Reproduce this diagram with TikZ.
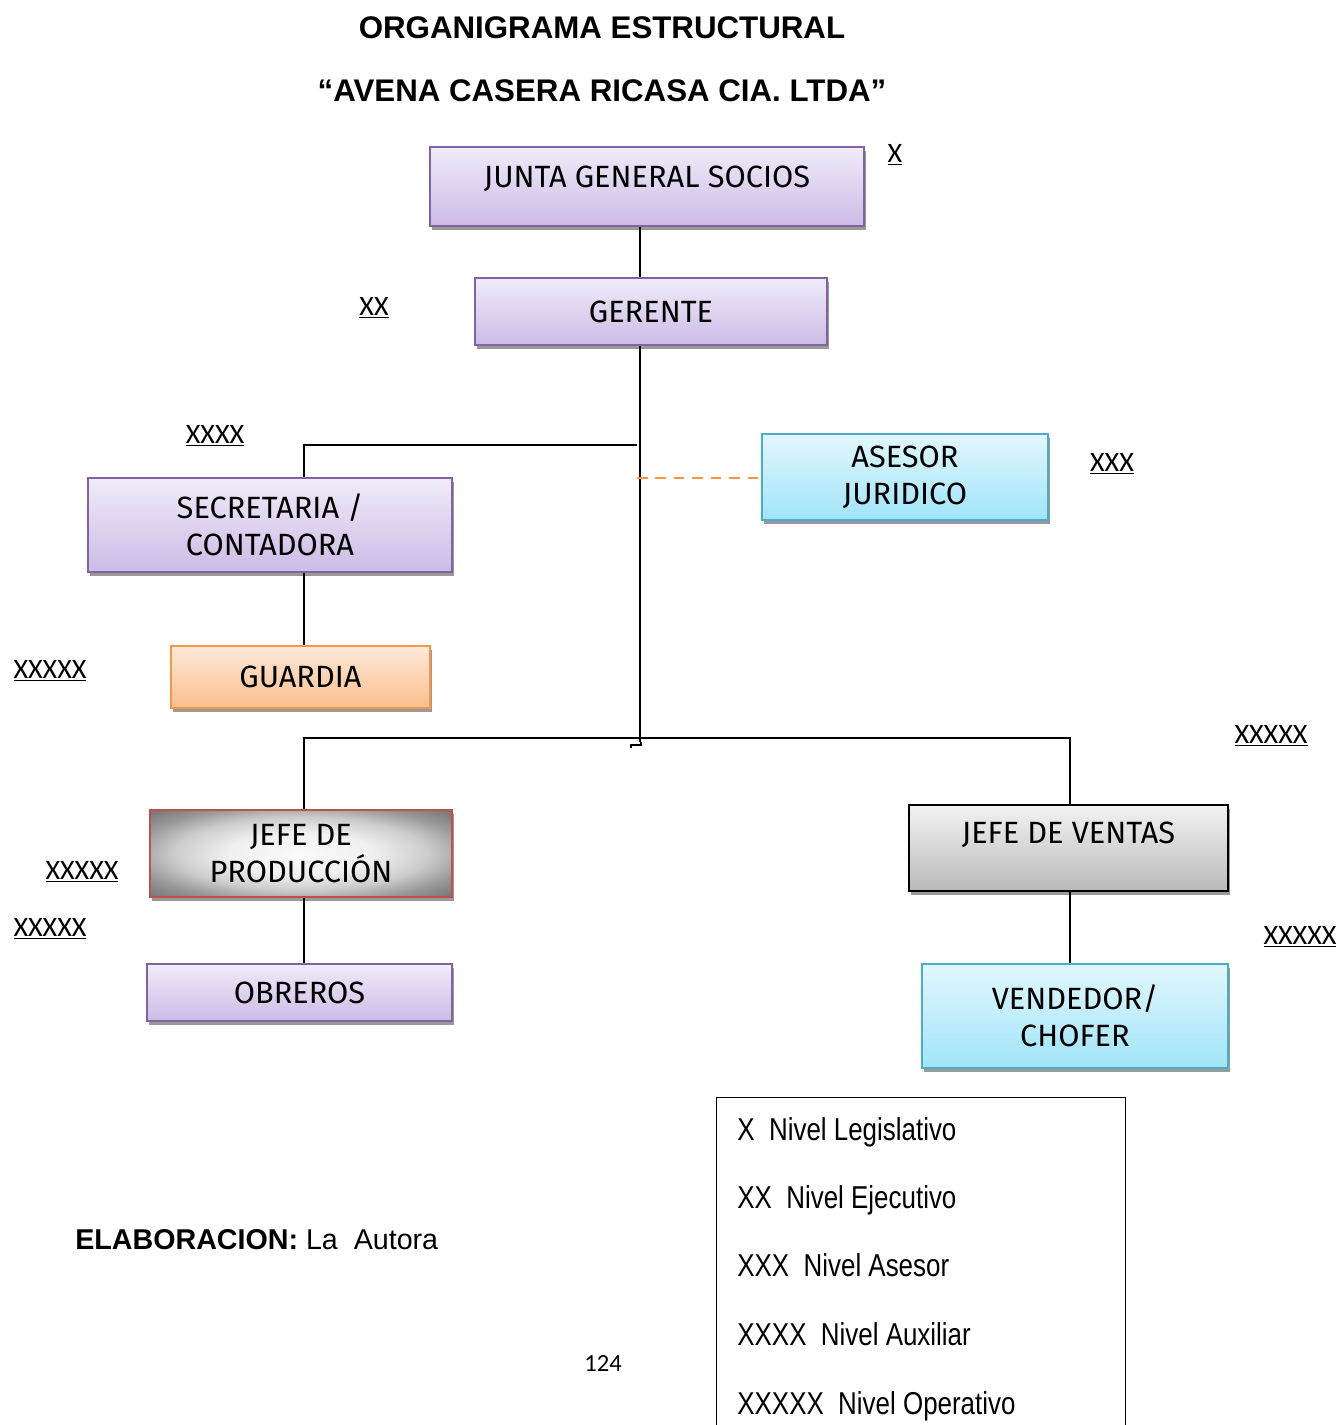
\documentclass[tikz,border=0pt]{standalone}
\usepackage{fontspec}
\setmainfont{Liberation Sans}
\newfontfamily\boxfont{Fira Sans}
\newfontfamily\lvlfont{Carlito}
\newfontfamily\legfont[FakeStretch=0.82]{Liberation Sans}
\usetikzlibrary{shadows}

\definecolor{lilaBorde}{RGB}{128,100,162}
\definecolor{lilaArriba}{RGB}{240,235,249}
\definecolor{lilaAbajo}{RGB}{204,187,230}
\definecolor{naranjaBorde}{RGB}{247,150,70}
\definecolor{naranjaArriba}{RGB}{253,233,218}
\definecolor{naranjaAbajo}{RGB}{251,190,140}
\definecolor{celesteBorde}{RGB}{75,172,198}
\definecolor{celesteArriba}{RGB}{226,247,254}
\definecolor{celesteAbajo}{RGB}{160,228,248}
\definecolor{rojoBorde}{RGB}{192,80,77}

\pgfdeclareradialshading{sombraProd}{\pgfpoint{0bp}{0bp}}{color(0bp)=(black!2); color(12bp)=(black!6); color(21bp)=(black!20); color(28bp)=(black!40); color(34bp)=(black!52); color(50bp)=(black!55)}

\tikzset{
  caja/.style={draw, line width=1pt, align=center, inner sep=2pt,
    font=\boxfont\fontsize{17.5}{21}\selectfont,
    drop shadow={shadow xshift=1pt, shadow yshift=-2pt, fill=black!40, opacity=1}},
  lila/.style={caja, draw=lilaBorde, top color=lilaArriba, bottom color=lilaAbajo},
  naranja/.style={caja, draw=naranjaBorde, top color=naranjaArriba, bottom color=naranjaAbajo},
  celeste/.style={caja, draw=celesteBorde, top color=celesteArriba, bottom color=celesteAbajo},
  gris/.style={caja, draw=black, top color=black!5, bottom color=black!27},
  grisradial/.style={caja, draw=rojoBorde, shading=sombraProd},
  nivel/.style={font=\lvlfont\fontsize{16}{18}\selectfont, inner sep=1pt},
  leyenda/.style={font=\legfont\fontsize{18}{20}\selectfont, anchor=base west, inner sep=0pt},
  linea/.style={line width=1pt},
}

\begin{document}
\begin{tikzpicture}[x=0.02cm, y=-0.02cm]
\useasboundingbox (0,0) rectangle (1342,1425);

% titulos
\node[font=\bfseries\fontsize{17.8}{20}\selectfont] (titulo) at (602,28) {ORGANIGRAMA ESTRUCTURAL};
\node[font=\bfseries\fontsize{17.8}{20}\selectfont] (empresa) at (602,91) {“AVENA CASERA RICASA CIA. LTDA”};

% cajas
\node[lila, minimum width=8.68cm, minimum height=1.58cm, text depth=0.4cm] (junta) at (647,186.5) {JUNTA GENERAL SOCIOS};
\node[lila, minimum width=7.04cm, minimum height=1.34cm] (gerente) at (651,311.5) {GERENTE};
\node[lila, minimum width=7.28cm, minimum height=1.88cm] (secre) at (270,525) {SECRETARIA /\\CONTADORA};
\node[naranja, minimum width=5.18cm, minimum height=1.24cm] (guardia) at (300.5,677) {GUARDIA};
\node[celeste, minimum width=5.72cm, minimum height=1.72cm] (asesor) at (905,477) {ASESOR\\JURIDICO};
\node[grisradial, minimum width=6.04cm, minimum height=1.74cm] (prod) at (301,853.5) {JEFE DE\\PRODUCCIÓN};
\node[lila, minimum width=6.10cm, minimum height=1.14cm] (obreros) at (299.5,992.5) {OBREROS};
\node[gris, minimum width=6.38cm, minimum height=1.72cm, text depth=0.6cm] (ventas) at (1068.5,848) {JEFE DE VENTAS};
\node[celeste, minimum width=6.12cm, minimum height=2.08cm] (vendedor) at (1075,1016) {VENDEDOR/\\CHOFER};

% niveles
\node[nivel] (nvJunta) at (895,155) {\underline{X}};
\node[nivel] (nvGerente) at (374,308) {\underline{XX}};
\node[nivel] (nvSecre) at (215,436) {\underline{XXXX}};
\node[nivel] (nvAsesor) at (1112,464) {\underline{XXX}};
\node[nivel] (nvGuardia) at (50,671) {\underline{XXXXX}};
\node[nivel] (nvVentas) at (1271,736) {\underline{XXXXX}};
\node[nivel] (nvProd) at (82,872) {\underline{XXXXX}};
\node[nivel] (nvObreros) at (50,929) {\underline{XXXXX}};
\node[nivel] (nvVendedor) at (1300,937) {\underline{XXXXX}};

% conectores
\coordinate (tr) at (640,0);
\coordinate (lx) at (304,0);
\coordinate (rx) at (1070,0);
\coordinate (barra) at (0,738);
\coordinate (fin) at (640,742);
\coordinate (ramaSecre) at (637,445);
\coordinate (ramaAsesor) at (637,478);
\draw[linea] (junta.south -| tr) -- (gerente.north -| tr);
\draw[linea] (gerente.south -| tr) -- (fin);
\draw[linea] (641,742) -- (641,745) -- (631,745) -- (631,748);
\draw[linea] (ramaSecre) -| (secre.north -| lx);
\draw[naranjaBorde, line width=1.2pt, dash pattern=on 6pt off 4.5pt] (ramaAsesor) -- (ramaAsesor -| asesor.west);
\draw[linea] (secre.south -| lx) -- (guardia.north -| lx);
\draw[linea] (prod.north -| lx) -- (lx |- barra) -- (rx |- barra) -- (ventas.north -| rx);
\draw[linea] (prod.south -| lx) -- (obreros.north -| lx);
\draw[linea] (ventas.south -| rx) -- (vendedor.north -| rx);

% leyenda
\node[draw, line width=0.8pt, anchor=north west, minimum width=8.18cm, minimum height=7cm] (marco) at (716,1097) {};
\node[leyenda] (ley1) at (737,1140) {X\ \ Nivel Legislativo};
\node[leyenda] (ley2) at (737,1208) {XX\ \ Nivel Ejecutivo};
\node[leyenda] (ley3) at (737,1276) {XXX\ \ Nivel Asesor};
\node[leyenda] (ley4) at (737,1345) {XXXX\ \ Nivel Auxiliar};
\node[leyenda] (ley5) at (737,1414) {XXXXX\ \ Nivel Operativo};

\node[anchor=west, inner sep=0pt, font=\fontsize{16.3}{18}\selectfont] (elab) at (75,1240) {\textbf{ELABORACION:} La\ \ Autora};
\node[font=\lvlfont\fontsize{14}{16}\selectfont] (pagina) at (603,1364) {124};
\end{tikzpicture}
\end{document}
